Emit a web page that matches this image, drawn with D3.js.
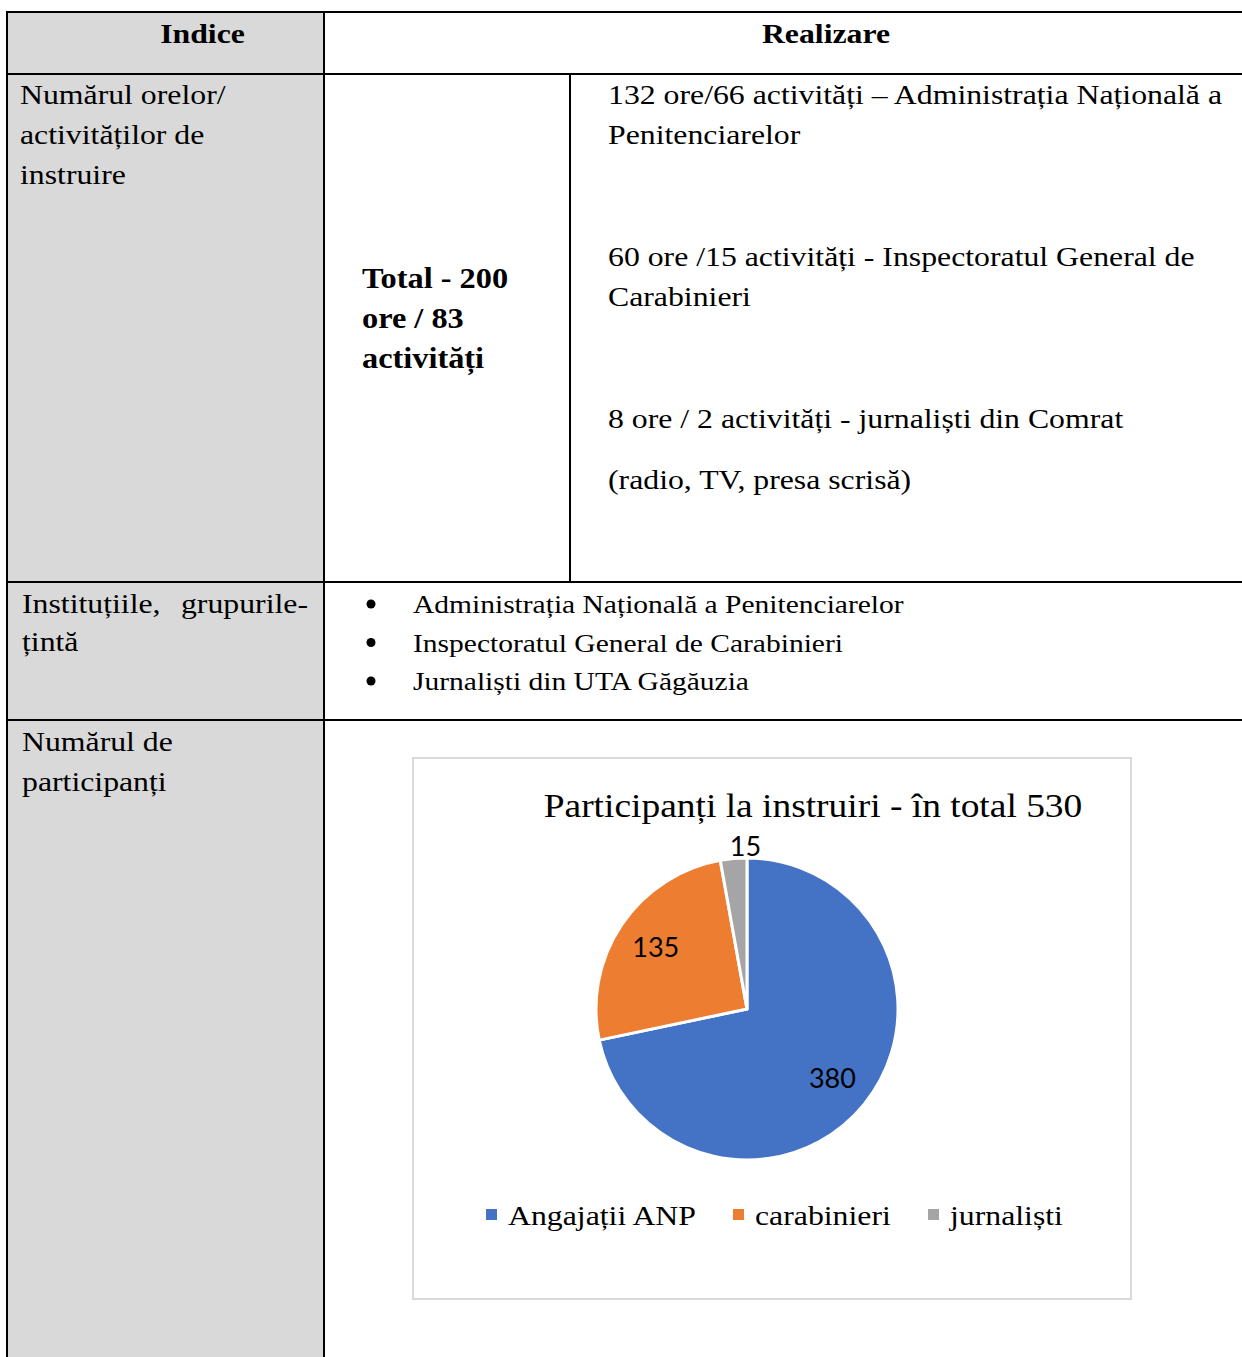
<!DOCTYPE html>
<html lang="ro">
<head>
<meta charset="UTF-8">
<title>Participanți la instruiri</title>
<script src="https://cdn.jsdelivr.net/npm/d3@7"></script>
<style>
  body { margin: 0; background: #fff; }
  svg text { font-family: "Liberation Serif", "Times New Roman", serif; fill: #000; }
</style>
</head>
<body>
<div id="chart"></div>
<script>
// date din diagramă
var categories = ["Angajații ANP", "carabinieri", "jurnaliști"];
var values = [380, 135, 15];
var colors = ["#4472c4", "#ed7d31", "#a5a5a5"];
var chartTitle = "Participanți la instruiri - în total 530";

// textele din tabel
var headers = ["Indice", "Realizare"];
var row1Label = ["Numărul orelor/", "activităților de", "instruire"];
var row1Total = ["Total - 200", "ore / 83", "activități"];
var row1Details = [
  ["132 ore/66 activități – Administrația Națională a", "Penitenciarelor"],
  ["60 ore /15 activități - Inspectoratul General de", "Carabinieri"],
  ["8 ore / 2 activități - jurnaliști din Comrat"],
  ["(radio, TV, presa scrisă)"]
];
var row2Label = ["Instituțiile,", "grupurile-", "țintă"];
var row2Bullets = ["Administrația Națională a Penitenciarelor", "Inspectoratul General de Carabinieri", "Jurnaliști din UTA Găgăuzia"];
var row3Label = ["Numărul de", "participanți"];

var W = 1242, H = 1357;
var sx = 1.135; // textul din imaginea originală e puțin lățit
var svg = d3.select("#chart").append("svg").attr("width", W).attr("height", H);

// grila tabelului
var colX = [7, 324, 570];
var rowY = [12, 74, 582, 720];

svg.append("rect").attr("x", colX[0]).attr("y", rowY[0])
  .attr("width", colX[1] - colX[0]).attr("height", H - rowY[0])
  .attr("fill", "#d9d9d9");

var lines = svg.append("g").attr("stroke", "#000").attr("stroke-width", 2);
rowY.forEach(function(y) {
  lines.append("line").attr("x1", colX[0] - 1).attr("x2", W).attr("y1", y).attr("y2", y);
});
lines.append("line").attr("x1", colX[0]).attr("x2", colX[0]).attr("y1", rowY[0]).attr("y2", H);
lines.append("line").attr("x1", colX[1]).attr("x2", colX[1]).attr("y1", rowY[0]).attr("y2", H);
lines.append("line").attr("x1", colX[2]).attr("x2", colX[2]).attr("y1", rowY[1]).attr("y2", rowY[2]);

function txt(t, x, y, size, weight, anchor) {
  return svg.append("text")
    .attr("transform", "translate(" + x + "," + y + ") scale(" + sx + ",1)")
    .attr("font-size", size).attr("font-weight", weight || "normal")
    .attr("text-anchor", anchor || "start")
    .text(t);
}
function textLines(arr, x, y0, lh, size, weight) {
  arr.forEach(function(t, i) { txt(t, x, y0 + i * lh, size, weight); });
}

// antet
txt(headers[0], (colX[0] + colX[1]) / 2 + 37, 43, 28, "bold", "middle");
txt(headers[1], 826, 43, 28, "bold", "middle");

// rândul 1
textLines(row1Label, 20, 104, 40, 28);
textLines(row1Total, 362, 288, 40, 28.5, "bold");
textLines(row1Details[0], 608, 104, 40, 28);
textLines(row1Details[1], 608, 266, 40, 28);
textLines(row1Details[2], 608, 428, 40, 28);
textLines(row1Details[3], 608, 489, 40, 28);

// rândul 2 (text aliniat stânga-dreapta)
txt(row2Label[0], 22, 613, 28);
txt(row2Label[1], 308, 613, 28, "normal", "end");
txt(row2Label[2], 22, 651, 28);
row2Bullets.forEach(function(t, i) {
  var y = 613 + i * 38.5;
  svg.append("circle").attr("cx", 371).attr("cy", y - 9).attr("r", 4.5).attr("fill", "#000");
  txt(t, 413, y, 26);
});

// rândul 3
textLines(row3Label, 22, 751, 40, 28);

// diagrama circulară
var box = { x: 413, y: 758, w: 718, h: 541 };
svg.append("rect").attr("x", box.x).attr("y", box.y).attr("width", box.w).attr("height", box.h)
  .attr("fill", "#fff").attr("stroke", "#d9d9d9").attr("stroke-width", 2);

txt(chartTitle, 813, 817, 33, "normal", "middle");

var cx = 747, cy = 1009, r = 151;
var data = categories.map(function(c, i) { return { cat: c, val: values[i], col: colors[i] }; });
var pie = d3.pie().sort(null).value(function(d) { return d.val; });
var arc = d3.arc().innerRadius(0).outerRadius(r);
var labelArc = d3.arc().innerRadius(110).outerRadius(110);
var outerArc = d3.arc().innerRadius(163).outerRadius(163);

var g = svg.append("g").attr("transform", "translate(" + cx + "," + cy + ")");
var arcs = pie(data);
g.selectAll("path").data(arcs).enter().append("path")
  .attr("d", arc).attr("fill", function(d) { return d.data.col; })
  .attr("stroke", "#fff").attr("stroke-width", 3).attr("stroke-linejoin", "round");

g.selectAll("text.lbl").data(arcs).enter().append("text")
  .attr("class", "lbl")
  .attr("transform", function(d) {
    var small = (d.endAngle - d.startAngle) < 0.3;
    var p = small ? outerArc.centroid(d) : labelArc.centroid(d);
    if (small) p[0] += 13;
    return "translate(" + p[0] + "," + p[1] + ")";
  })
  .attr("text-anchor", "middle").attr("dy", "0.35em")
  .style("font-family", "Lato, 'Open Sans', sans-serif").attr("font-size", 27)
  .text(function(d) { return d.data.val; });

// legenda
var legendX = [486, 733, 928];
data.forEach(function(d, i) {
  svg.append("rect").attr("x", legendX[i]).attr("y", 1209).attr("width", 11).attr("height", 11)
    .attr("fill", d.col);
  txt(d.cat, legendX[i] + 22, 1225, 28);
});
</script>
</body>
</html>
